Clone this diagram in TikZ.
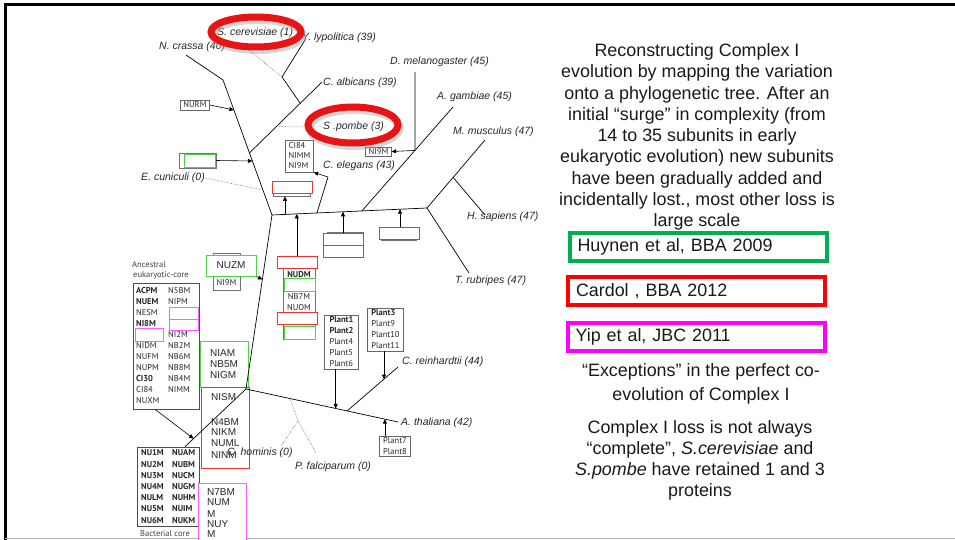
\documentclass[tikz,border=0pt]{standalone}
\usepackage{fontspec}
\setmainfont{Liberation Sans}
\newfontfamily\boxfont{PT Sans}
\usetikzlibrary{arrows.meta,calc,shapes.geometric}

\definecolor{refgreen}{RGB}{0,176,80}
\definecolor{refred}{RGB}{255,0,0}
\definecolor{refmagenta}{RGB}{255,0,255}
\definecolor{gaingreen}{RGB}{80,210,70}
\definecolor{gainred}{RGB}{240,50,50}
\definecolor{gainmagenta}{RGB}{255,90,255}
\definecolor{ringred}{RGB}{230,20,20}

\begin{document}
\begin{tikzpicture}[x=1pt,y=-1pt,
    branch/.style={line width=0.7pt},
    lost/.style={densely dotted,line width=0.5pt,black!70},
    tip/.style={-{Triangle[length=4.5pt,width=4pt]},line width=0.6pt},
    species/.style={anchor=west,inner sep=0pt,text=black!85,font=\fontsize{10.5}{12}\selectfont\itshape},
    tag/.style={draw=black!60,line width=0.7pt,fill=white,inner xsep=3pt,inner ysep=2pt,align=left,text=black!85,font=\boxfont\fontsize{8.5}{11}\selectfont},
    plain/.style={anchor=west,inner sep=0pt,text=black!85,font=\boxfont\fontsize{8.5}{11}\selectfont},
    plainbold/.style={plain,font=\boxfont\bfseries\fontsize{8.5}{11}\selectfont},
    big/.style={anchor=west,inner sep=0pt,text=black!85,font=\fontsize{10}{11}\selectfont},
    back/.style={draw=black!55,line width=0.7pt,fill=white,inner sep=0pt},
    gbox/.style={draw=gaingreen,line width=1pt,fill=white,inner sep=0pt},
    rbox/.style={draw=gainred,line width=1pt,fill=white,inner sep=0pt},
    mbox/.style={draw=gainmagenta,line width=1pt,fill=white,inner sep=0pt},
    ring/.style={ellipse,draw=ringred,line width=7pt,inner sep=0pt},
    ringshade/.style={ellipse,draw=black!35,line width=8pt,opacity=0.45,inner sep=0pt},
    note/.style={align=center,inner sep=0pt,text=black!90},
    legend/.style={line width=4pt,inner xsep=8pt,minimum height=28pt,text width=241pt,align=left,text=black!90,font=\fontsize{17.9}{21.6}\selectfont}
  ]

  % рамка слайда
  \useasboundingbox (0,0) rectangle (955,540);
  \draw[line width=3pt] (5,540) -- (5,5) -- (955,5);
  \draw[black!30,line width=0.8pt] (5,538.5) -- (955,538.5);

  % названия видов
  \node[species] (ncr) at (159,47) {N. crassa (40)};
  \node[species] (sce) at (217,33) {S. cerevisiae (1)};
  \node[species] (yli) at (302,38) {Y. lypolitica (39)};
  \node[species] (cal) at (323,83) {C. albicans (39)};
  \node[species] (spo) at (323,127) {S .pombe (3)};
  \node[species] (dme) at (390,62) {D. melanogaster (45)};
  \node[species] (aga) at (437,97) {A. gambiae (45)};
  \node[species] (mmu) at (453,131.5) {M. musculus (47)};
  \node[species] (hsa) at (467,217) {H. sapiens (47)};
  \node[species] (tru) at (455,281) {T. rubripes (47)};
  \node[species] (cel) at (323,166) {C. elegans (43)};
  \node[species] (ecu) at (141,178) {E. cuniculi (0)};
  \node[species] (cre) at (402,362) {C. reinhardtii (44)};
  \node[species] (ath) at (401,423) {A. thaliana (42)};
  \node[species] (pfa) at (295,467) {P. falciparum (0)};

  % узлы дерева
  \coordinate (nc) at (186,55);
  \coordinate (a1) at (223,80);
  \coordinate (j1) at (272,215);
  \coordinate (j2) at (427,208);
  \coordinate (j3) at (246,389);
  \coordinate (ca) at (322,82);
  \coordinate (yb) at ($(a1)!0.54!(j1)$);
  \coordinate (yk) at ($(yb)!0.70!(ca)$);
  \coordinate (yl) at (282,77);
  \coordinate (ylt) at (305,40);
  \coordinate (sct) at (243,45);
  \coordinate (spb) at ($(yb)!0.37!(ca)$);
  \coordinate (ecb) at ($(a1)!0.815!(j1)$);
  \coordinate (ceb) at ($(j1)!0.29!(j2)$);
  \coordinate (cet) at (328,177);
  \coordinate (dmb) at ($(j1)!0.58!(j2)$);
  \coordinate (agt) at (453,107);
  \coordinate (dmk) at ($(dmb)!0.582!(agt)$);
  \coordinate (dmt) at (415,72);
  \coordinate (mmt) at (485,140);
  \coordinate (mk) at ($(j2)!0.45!(mmt)$);
  \coordinate (hst) at (485,215);
  \coordinate (trt) at (469,273);
  \coordinate (att) at (398,422);
  \coordinate (crb) at ($(j3)!0.665!(att)$);
  \coordinate (crt) at (398,367);
  \coordinate (apb) at ($(j3)!0.29!(att)$);
  \coordinate (ap2) at (298,421);
  \coordinate (cht) at (281,446);
  \coordinate (pft) at (316,453);

  % рамки с белками: грибы и животные
  \node[tag] (nurm) at (195,105) {NURM};
  \node[back,minimum width=37pt,minimum height=15pt] (gb1back) at (197.5,160.5) {};
  \node[gbox,minimum width=31pt,minimum height=13pt] (gb1) at (199.5,161.5) {};
  \node[tag,font=\boxfont\fontsize{8.5}{10}\selectfont,inner ysep=3pt] (ci84) at (299.5,156) {CI84\\NIMM\\NI9M};
  \node[tag,inner ysep=1.5pt] (ni9m) at (378.5,151.5) {NI9M};
  \node[back,minimum width=37pt,minimum height=12pt] (rb1back) at (292,190) {};
  \node[rbox,minimum width=40pt,minimum height=12pt] (rb1) at (292,188) {};
  \node[back,minimum width=36pt,minimum height=25pt] (rb3back) at (345,244.5) {};
  \node[rbox,minimum width=40pt,minimum height=12pt] (rb3a) at (343,239) {};
  \node[rbox,minimum width=40pt,minimum height=12pt] (rb3b) at (343,251) {};
  \node[back,minimum width=35pt,minimum height=11pt] (rb4back) at (398.5,234.5) {};
  \node[rbox,minimum width=40pt,minimum height=12pt] (rb4) at (399,233) {};

  % стопка NUDM
  \node[back,minimum width=32pt,minimum height=77pt] (nudmback) at (299,300.5) {};
  \node[rbox,minimum width=40pt,minimum height=12pt] (rb2) at (297,262) {};
  \node[plainbold,anchor=center] (nudm) at (299,274.5) {NUDM};
  \node[gbox,minimum width=31pt,minimum height=13pt] (gb2) at (299.5,284.5) {};
  \node[plain,anchor=center] (nb7m) at (299,297) {NB7M};
  \node[plain,anchor=center] (nuom) at (299,308) {NUOM};
  \node[rbox,minimum width=40pt,minimum height=12pt] (rb5) at (297,318) {};
  \node[gbox,minimum width=31pt,minimum height=13pt] (gb3) at (299.5,332.5) {};

  % растения
  \node[tag,align=left,inner xsep=5pt,inner ysep=2pt] (plant1) at (341.5,342) {\textbf{Plant1}\\\textbf{Plant2}\\Plant4\\Plant5\\Plant6};
  \node[tag,align=left,inner xsep=4pt,inner ysep=2pt] (plant3) at (385.5,329.5) {\textbf{Plant3}\\Plant9\\Plant10\\Plant11};
  \node[tag,align=left,inner xsep=4pt,inner ysep=1.5pt] (plant7) at (395,446.5) {Plant7\\Plant8};

  % NUZM
  \node[back,minimum width=27pt,minimum height=37pt] (nuzmback) at (226.5,271.5) {};
  \node[gbox,minimum width=50pt,minimum height=21pt,font=\fontsize{10}{11}\selectfont,text=black!85] (nuzm) at (231,265.5) {NUZM};
  \node[plain,anchor=center] (nuzmlow) at (226.5,283) {NI9M};

  % предковое ядро
  \node[species,font=\boxfont\fontsize{8.5}{10}\selectfont,text=black!75] (anclab1) at (132,265) {Ancestral};
  \node[species,font=\boxfont\fontsize{8.5}{10}\selectfont,text=black!75] (anclab2) at (133,275.5) {eukaryotic-core};
  \node[back,draw=black!70,minimum width=66pt,minimum height=126pt] (anc) at (166,346) {};
  \foreach \name/\row in {ACPM/0,NUEM/1,NI8M/3,CI30/8}
    \node[plainbold] (anc-\name) at (136,{291+11*\row}) {\name};
  \foreach \name/\row in {NESM/2,NIDM/5,NUFM/6,NUPM/7,CI84/9,NUXM/10}
    \node[plain] (anc-\name) at (136,{291+11*\row}) {\name};
  \foreach \name/\row in {N5BM/0,NIPM/1,NI2M/4,NB2M/5,NB6M/6,NB8M/7,NB4M/8,NIMM/9}
    \node[plain] (anc-\name) at (168,{291+11*\row}) {\name};
  \node[mbox,minimum width=28pt,minimum height=13pt] (ancm1) at (149,334.5) {};
  \node[mbox,minimum width=29pt,minimum height=12pt] (ancm2) at (183.5,313) {};
  \node[mbox,minimum width=29pt,minimum height=11pt] (ancm3) at (183.5,324.5) {};

  % бактериальное ядро
  \node[back,draw=black!70,minimum width=62pt,minimum height=79pt] (bac) at (168,486.5) {};
  \foreach \one/\two [count=\k from 0] in {NU1M/NUAM,NU2M/NUBM,NU3M/NUCM,NU4M/NUGM,NULM/NUHM,NU5M/NUIM,NU6M/NUKM} {
    \node[plainbold] (bac-\one) at (141,{453+11.2*\k}) {\one};
    \node[plainbold] (bac-\two) at (172,{453+11.2*\k}) {\two};
  }
  \node[species,font=\boxfont\fontsize{8.5}{10}\selectfont,text=black!75] (baclab) at (140,533.5) {Bacterial core};
  \coordinate (bactop) at ($(bac.north)+(17,0)$);

  % цветные рамки у основания
  \node[gbox,minimum width=48pt,minimum height=46pt] (niam) at (224,364) {};
  \foreach \name/\y in {NIAM/353,NB5M/364,NIGM/375}
    \node[big] (t-\name) at (210,\y) {\name};
  \node[rbox,fill=none,minimum width=48pt,minimum height=81pt] (nism) at (225,427.5) {};
  \foreach \name/\y in {NISM/397,N4BM/422,NIKM/432,NUML/443,NINM/455}
    \node[big] (t-\name) at (211,\y) {\name};
  \node[mbox,minimum width=48pt,minimum height=70pt] (n7bm) at (222,518) {};
  \foreach \name/\txt/\y in {a/N7BM/492,b/NUM/502,c/M/514,d/NUY/524.5,e/M/534}
    \node[big] (t7-\name) at (207,\y) {\txt};
  \node[species] (cho) at (227,453) {C. hominis (0)};

  % ветви
  \draw[branch] (nc) -- (a1) -- (j1) -- (j2);
  \draw[branch] (j1) -- (j3) -- (bactop);
  \draw[branch] (yb) -- (ca);
  \draw[branch] (yk) -- (yl) -- (ylt);
  \draw[branch] (ceb) -- (cet);
  \draw[branch] (dmb) -- (agt);
  \draw[branch] (dmk) -- (dmt);
  \draw[branch] (j2) -- (mmt);
  \draw[branch] (mk) -- (hst);
  \draw[branch] (j2) -- (trt);
  \draw[branch] (j3) -- (att);
  \draw[branch] (crb) -- (crt);

  % потерянный комплекс I
  \draw[lost] (yl) -- (sct);
  \draw[lost] (spb) -- (spo.west);
  \draw[lost] (ecu.east) -- (ecb);
  \draw[lost] (apb) -- (ap2) -- (cht);
  \draw[lost] (ap2) -- (pft);

  % стрелки
  \draw[tip] (nurm.east) -- ($(a1)!0.222!(j1)$);
  \draw[tip] (gb1back.east) -- ($(a1)!0.60!(j1)$);
  \draw[tip] (cet) -- (ci84.south east);
  \draw[tip] (dmk) -- (ni9m.east);
  \coordinate (h1) at ($(j1)!0.084!(j2)$);
  \draw[tip] (h1) -- (h1 |- rb1back.south);
  \coordinate (h2) at ($(j1)!0.16!(j2)$);
  \draw[tip] (h2 |- rb2.north) -- (h2);
  \coordinate (h3) at ($(j1)!0.458!(j2)$);
  \draw[tip] (h3 |- rb3a.north) -- (h3);
  \coordinate (h4) at ($(j1)!0.826!(j2)$);
  \draw[tip] (h4 |- rb4.north) -- (h4);
  \draw[tip] (nuzm.south east) -- ($(j1)!0.37!(j3)$);
  \draw[tip] ($(anc.south)+(-11,0)$) -- ($(j3)!0.86!(bactop)$);
  \coordinate (p1) at ($(j3)!0.59!(att)$);
  \draw[tip] (p1 |- plant1.south) -- (p1);
  \coordinate (p3) at ($(crb)!0.725!(crt)$);
  \draw[tip] (p3 |- plant3.south) -- (p3);
  \coordinate (p7) at ($(j3)!0.914!(att)$);
  \draw[tip] (p7 |- plant7.north) -- (p7);

  % красные овалы
  \node[ringshade,minimum width=90pt,minimum height=30pt] (scshade) at (257.5,35) {};
  \node[ring,minimum width=90pt,minimum height=30pt] (scring) at (256,32) {};
  \node[ringshade,minimum width=90pt,minimum height=36pt] (spshade) at (354.5,128) {};
  \node[ring,minimum width=90pt,minimum height=36pt] (spring) at (353,125) {};

  % текст справа
  \node[note,font=\fontsize{17.9}{21.3}\selectfont] (intro) at (697,137) {Reconstructing Complex I\\evolution by mapping the variation\\onto a phylogenetic tree. After an\\initial “surge” in complexity (from\\14 to 35 subunits in early\\eukaryotic evolution) new subunits\\have been gradually added and\\incidentally lost., most other loss is\\large scale};
  \node[legend,draw=refgreen] (huynen) at (698,247) {Huynen et al, BBA 2009};
  \node[legend,draw=refred] (cardol) at (696.5,291) {Cardol , BBA 2012};
  \node[legend,draw=refmagenta] (yip) at (696,337) {Yip et al, JBC 2011};
  \node[note,font=\fontsize{17.9}{23.3}\selectfont] (except) at (701,384) {“Exceptions” in the perfect co-\\evolution of Complex I};
  \node[note,font=\fontsize{17.9}{21}\selectfont] (loss) at (700,460) {Complex I loss is not always\\“complete”, \textit{S.cerevisiae} and\\\textit{S.pombe} have retained 1 and 3\\proteins};

\end{tikzpicture}
\end{document}
